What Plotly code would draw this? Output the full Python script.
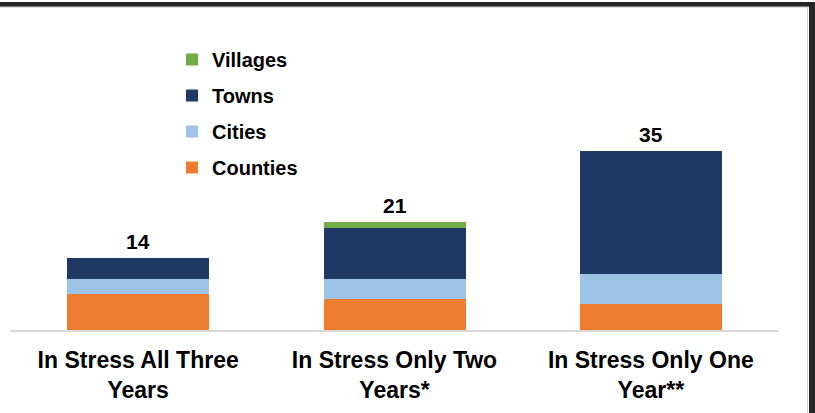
import plotly.graph_objects as go

categories = ["In Stress All Three<br>Years", "In Stress Only Two<br>Years*", "In Stress Only One<br>Year**"]
counties = [7, 6, 5]
cities = [3, 4, 6]
towns = [4, 10, 24]
villages = [0, 1, 0]
totals = [14, 21, 35]

colors = {"Counties": "#ED7D31", "Cities": "#9DC3E6", "Towns": "#203864", "Villages": "#70AD47"}
legend_rank = {"Villages": 1, "Towns": 2, "Cities": 3, "Counties": 4}

W, H = 815, 413
ML, MR, MT, MB = 10, 36, 125, 83
PW, PH = W - ML - MR, H - MT - MB

def px(x):
    return (x - ML) / PW

def py(y):
    return (H - MB - y) / PH

FONT = "Liberation Sans, Arial, sans-serif"

fig = go.Figure()
for name, vals in [("Counties", counties), ("Cities", cities), ("Towns", towns), ("Villages", villages)]:
    fig.add_trace(go.Bar(
        x=categories, y=vals, name=name, legendgroup=name, legendrank=legend_rank[name],
        marker=dict(color=colors[name], line=dict(width=0)),
    ))

for c, t in zip(categories, totals):
    fig.add_annotation(x=c, y=t, text=str(t), showarrow=False, yanchor="bottom", yshift=3,
                       font=dict(family=FONT, size=21, color="#000000", weight="bold"))

shapes = [
    dict(type="rect", xref="paper", yref="paper", x0=px(-5), x1=px(W + 5), y0=py(0), y1=py(-5),
         fillcolor="#1F3864", line=dict(width=0), layer="above"),
    dict(type="rect", xref="paper", yref="paper", x0=px(-5), x1=px(W + 5), y0=py(6.7), y1=py(2),
         fillcolor="#262626", line=dict(width=0), layer="above"),
    dict(type="rect", xref="paper", yref="paper", x0=px(809), x1=px(W + 5), y0=py(H + 5), y1=py(2),
         fillcolor="#262626", line=dict(width=0), layer="above"),
    dict(type="line", xref="paper", yref="paper", x0=px(807.5), x1=px(807.5), y0=py(H + 5), y1=py(7),
         line=dict(color="#CFCFCF", width=1), layer="above"),
    dict(type="line", xref="paper", yref="paper", x0=px(-5), x1=px(809), y0=py(7.2), y1=py(7.2),
         line=dict(color="#CFCFCF", width=1), layer="above"),
]

fig.update_layout(
    width=W, height=H,
    margin=dict(l=ML, r=MR, t=MT, b=MB, pad=0),
    barmode="stack", bargap=0.446,
    paper_bgcolor="white", plot_bgcolor="white",
    font=dict(family=FONT, color="#000000"),
    shapes=shapes,
    legend=dict(
        x=px(172), y=py(40), xanchor="left", yanchor="top",
        traceorder="grouped", tracegroupgap=7,
        font=dict(family=FONT, size=20, color="#000000", weight="bold"),
        bgcolor="rgba(0,0,0,0)", itemclick=False,
    ),
    xaxis=dict(
        showline=True, linecolor="#D9D9D9", linewidth=1.5, showgrid=False, ticks="",
        tickfont=dict(family=FONT, size=23, color="#000000", weight="bold"),
        ticklabelstandoff=9,
    ),
    yaxis=dict(range=[0, 40], visible=False, showgrid=False, zeroline=False),
)

fig.write_html("out.html")
